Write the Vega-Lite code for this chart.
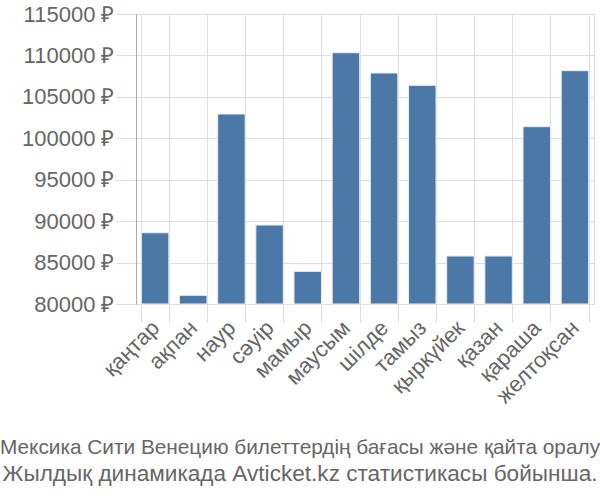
{
  "$schema": "https://vega.github.io/schema/vega-lite/v6.json",
  "width": 458,
  "height": 290,
  "autosize": {"type": "none"},
  "padding": {"left": 136, "top": 14, "right": 6, "bottom": 196},
  "background": "white",
  "config": {
    "font": "Liberation Sans",
    "view": {"stroke": "#dddddd", "strokeWidth": 1}
  },
  "title": {
    "text": "Мексика Сити Венецию билеттердің бағасы және қайта оралу",
    "subtitle": "Жылдық динамикада Avticket.kz статистикасы бойынша.",
    "orient": "bottom",
    "anchor": "middle",
    "dx": -65,
    "offset": 31,
    "fontSize": 20.8,
    "fontWeight": "normal",
    "color": "#666666",
    "subtitleFontSize": 22.6,
    "subtitleColor": "#666666",
    "subtitlePadding": 4
  },
  "data": {
    "values": [
      {"month": "қаңтар", "price": 88600},
      {"month": "ақпан", "price": 81050},
      {"month": "наур", "price": 102930},
      {"month": "сәуір", "price": 89530},
      {"month": "мамыр", "price": 83940},
      {"month": "маусым", "price": 110330},
      {"month": "шілде", "price": 107880},
      {"month": "тамыз", "price": 106390},
      {"month": "қыркүйек", "price": 85790},
      {"month": "қазан", "price": 85790},
      {"month": "қараша", "price": 101400},
      {"month": "желтоқсан", "price": 108160}
    ]
  },
  "mark": {"type": "bar", "color": "#4c78a8", "stroke": "#e8eef5", "strokeWidth": 1},
  "encoding": {
    "x": {
      "field": "month",
      "type": "nominal",
      "sort": null,
      "scale": {"paddingInner": 0.28, "paddingOuter": 0.14},
      "axis": {
        "title": null,
        "labelAngle": -45,
        "labelAlign": "right",
        "labelBaseline": "middle",
        "labelFontSize": 22,
        "labelColor": "#666666",
        "labelPadding": 2,
        "tickBand": "extent",
        "grid": true,
        "gridColor": "#dddddd",
        "tickColor": "#dddddd",
        "tickSize": 18,
        "domain": false
      }
    },
    "y": {
      "field": "price",
      "type": "quantitative",
      "scale": {"domain": [80000, 115000], "zero": false, "nice": false},
      "axis": {
        "title": null,
        "values": [80000, 85000, 90000, 95000, 100000, 105000, 110000, 115000],
        "labelExpr": "format(datum.value, 'd') + ' ₽'",
        "labelFontSize": 22,
        "labelColor": "#666666",
        "labelPadding": 2,
        "tickSize": 20,
        "tickColor": "#dddddd",
        "gridColor": "#dddddd",
        "domainColor": "#aaaaaa",
        "labelBaseline": "middle"
      }
    },
    "y2": {"datum": 80000}
  }
}
